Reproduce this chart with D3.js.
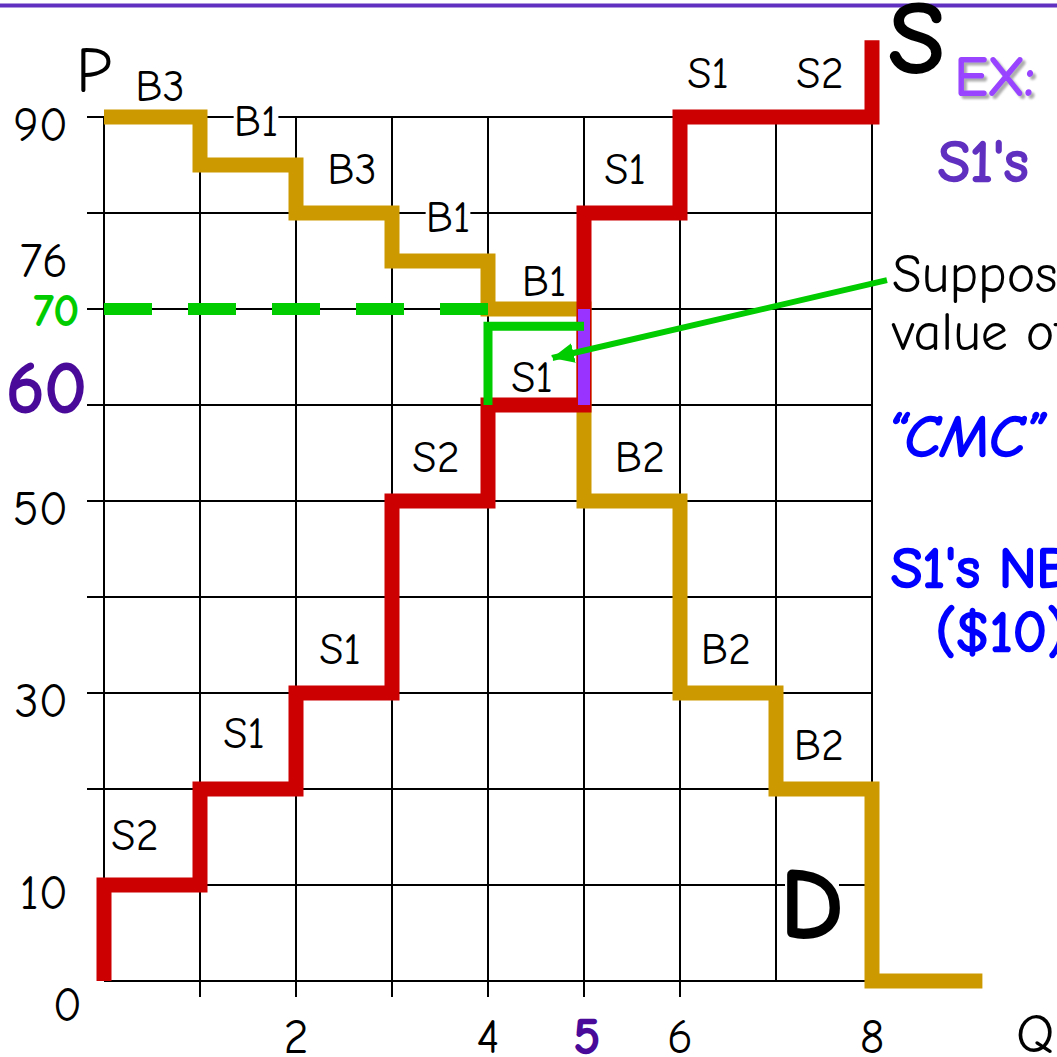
<!DOCTYPE html>
<html>
<head>
<meta charset="utf-8">
<script src="https://cdn.jsdelivr.net/npm/d3@7"></script>
<style>
  body { margin: 0; background: #fff; }
  svg { display: block; font-family: "Comic Sans MS", "Comic Neue", "DejaVu Sans", sans-serif; }
</style>
</head>
<body>
<svg id="chart" width="1057" height="1057"></svg>
<script>
// demand steps (buyers), read left to right
const demandQ = [0, 1, 2, 3, 4, 5, 6, 7, 8, 9.15];
const demandP = [90, 85, 80, 75, 70, 50, 30, 20, 0, 0];
const demandLabels = ["B3", "B1", "B3", "B1", "B1", "B2", "B2", "B2"];

// supply steps (sellers)
const supplyQ = [0, 1, 2, 3, 4, 5, 6, 7, 8, 8];
const supplyP = [0, 10, 20, 30, 50, 60, 80, 90, 90, 98];
const supplyLabels = ["S2", "S1", "S1", "S2", "S1", "S1", "S1", "S2"];

const gridQ = [0, 1, 2, 3, 4, 5, 6, 7, 8];
const gridP = [0, 10, 20, 30, 40, 50, 60, 70, 80, 90];
const yTickLabels = [90, 76, 70, 60, 50, 30, 10, 0];
const xTickLabels = [2, 4, 5, 6, 8];

const dashedP = 70;          // green dashed price line
const s1ValueP = 68.2;       // green bracket, S1's value
const cmcP = [60, 70];       // purple segment at Q = 5
const arrowFrom = [8.156, 73.0];
const arrowTo = [4.667, 64.9];

const svg = d3.select("#chart");
const x = d3.scaleLinear().domain([0, 8]).range([104, 872]);
const y = d3.scaleLinear().domain([0, 90]).range([981, 117]);

const defs = svg.append("defs");
defs.append("filter").attr("id", "shadow")
    .attr("x", "-10%").attr("y", "-10%").attr("width", "130%").attr("height", "130%")
    .append("feDropShadow")
    .attr("dx", 3).attr("dy", 3).attr("stdDeviation", 0.8)
    .attr("flood-color", "#999").attr("flood-opacity", 0.8);

// heavier strokes since the fallback font has no real bold
function heavy(sel, color, w) {
  return sel.attr("fill", color).attr("stroke", color).attr("stroke-width", w)
      .attr("stroke-linejoin", "round");
}

// purple rule at top
svg.append("line")
    .attr("x1", 0).attr("x2", 1057).attr("y1", 5.5).attr("y2", 5.5)
    .attr("stroke", "#6030c0").attr("stroke-width", 4);

// grid
const grid = svg.append("g").attr("stroke", "#000").attr("stroke-width", 2);
grid.selectAll(".h").data(gridP).enter().append("line")
    .attr("x1", d => d >= 20 ? x(0) - 17 : x(0))
    .attr("x2", x(8))
    .attr("y1", d => y(d)).attr("y2", d => y(d));
grid.selectAll(".v").data(gridQ).enter().append("line")
    .attr("x1", d => x(d)).attr("x2", d => x(d))
    .attr("y1", y(90))
    .attr("y2", d => d >= 1 && d <= 6 ? y(0) + 16 : y(0));

// step lines
const line = d3.line().x(d => x(d[0])).y(d => y(d[1]));

svg.append("path")
    .datum(demandQ.map((q, i) => [q, demandP[i]]))
    .attr("d", line.curve(d3.curveStepAfter))
    .attr("fill", "none").attr("stroke", "#cc9900").attr("stroke-width", 15)
    .attr("stroke-linejoin", "miter");

svg.append("path")
    .datum(supplyQ.map((q, i) => [q, supplyP[i]]))
    .attr("d", line.curve(d3.curveStepBefore))
    .attr("fill", "none").attr("stroke", "#cc0000").attr("stroke-width", 15)
    .attr("stroke-linejoin", "miter");

// purple CMC piece
svg.append("line")
    .attr("x1", x(5)).attr("x2", x(5))
    .attr("y1", y(cmcP[0])).attr("y2", y(cmcP[1]))
    .attr("stroke", "#9933ff").attr("stroke-width", 12);

// green dashed at 70
svg.append("line")
    .attr("x1", x(0)).attr("x2", x(4))
    .attr("y1", y(dashedP)).attr("y2", y(dashedP))
    .attr("stroke", "#00cc00").attr("stroke-width", 12)
    .attr("stroke-dasharray", "48 36");

// green bracket
svg.append("path")
    .attr("d", "M" + x(4) + "," + y(60) + "V" + y(s1ValueP) + "H" + x(5))
    .attr("fill", "none").attr("stroke", "#00cc00").attr("stroke-width", 9)
    .attr("stroke-linejoin", "miter");

// arrow
defs.append("marker")
    .attr("id", "head").attr("markerUnits", "userSpaceOnUse")
    .attr("markerWidth", 30).attr("markerHeight", 30)
    .attr("refX", 22).attr("refY", 10).attr("orient", "auto")
    .append("path").attr("d", "M0,0L22,10L0,20Z").attr("fill", "#00cc00");
svg.append("line")
    .attr("x1", x(arrowFrom[0])).attr("y1", y(arrowFrom[1]))
    .attr("x2", x(arrowTo[0])).attr("y2", y(arrowTo[1]))
    .attr("stroke", "#00cc00").attr("stroke-width", 6)
    .attr("marker-end", "url(#head)");

// step labels with white backing
function label(txt, cx, cy, size) {
  const g = svg.append("g");
  const t = g.append("text")
      .attr("x", cx).attr("y", cy)
      .attr("text-anchor", "middle").attr("dominant-baseline", "central")
      .attr("font-size", size).attr("fill", "#000").text(txt);
  const b = t.node().getBBox();
  g.insert("rect", "text")
      .attr("x", b.x).attr("y", b.y + 6).attr("width", b.width).attr("height", b.height - 12)
      .attr("fill", "#fff");
  return t;
}

const nudge = {
  d0: [0, 13], d4: [0, 16], d6: [-10, 0], d7: [-13, 0],
  s0: [-13, -6], s1: [0, -12], s4: [0, 16], s5: [-3, 0], s6: [-16, 0]
};
demandLabels.forEach((t, i) => {
  const n = nudge["d" + i] || [0, 0];
  label(t, x(i + 0.5) + 8 + n[0], y(demandP[i]) - 44 + n[1], 44);
});
supplyLabels.forEach((t, i) => {
  const n = nudge["s" + i] || [0, 0];
  label(t, x(i + 0.5) - 4 + n[0], y(supplyP[i + 1]) - 44 + n[1], 44);
});

// axis labels
const yl = svg.append("g");
yTickLabels.forEach(v => {
  let t = yl.append("text").attr("dominant-baseline", "central").attr("text-anchor", "end").text(v);
  if (v === 70) {
    t.attr("x", 79).attr("y", y(v) + 2).attr("font-size", 42);
    heavy(t, "#00cc00", 2);
  } else if (v === 60) {
    t.attr("x", 87).attr("y", y(v) - 16).attr("font-size", 70);
    heavy(t, "#4a0a99", 3);
  } else if (v === 0) {
    t.attr("x", 82).attr("y", y(v) + 24).attr("font-size", 48);
  } else {
    t.attr("x", 68).attr("y", y(v) + (v === 76 ? 10 : 8)).attr("font-size", 48);
  }
});
xTickLabels.forEach(v => {
  const t = svg.append("text")
      .attr("x", x(v) + (v === 5 ? 3 : 0)).attr("y", 1037)
      .attr("text-anchor", "middle").attr("dominant-baseline", "central")
      .attr("font-size", 48)
      .text(v);
  if (v === 5) heavy(t, "#4a0a99", 2.5);
});
svg.append("text").attr("x", 76).attr("y", 92).attr("font-size", 64).text("P");
svg.append("text").attr("x", 1016).attr("y", 1052).attr("font-size", 54).text("Q");

// S and D
heavy(svg.append("text").attr("x", 889).attr("y", 72).attr("font-size", 100).text("S"), "#000", 4);
const dg = svg.append("g");
dg.append("rect").attr("x", 785).attr("y", 870).attr("width", 54).attr("height", 66).attr("fill", "#fff");
heavy(dg.append("text").attr("x", 781).attr("y", 937).attr("font-size", 98).text("D"), "#000", 4);

// right-hand notes
heavy(svg.append("text").attr("x", 955).attr("y", 95).attr("font-size", 54)
    .attr("filter", "url(#shadow)").text("EX:"), "#9944ff", 2);
heavy(svg.append("text").attr("x", 938).attr("y", 181).attr("font-size", 58).text("S1's"), "#6030c0", 2.5);
svg.append("text").attr("x", 892).attr("y", 292).attr("font-size", 54).text("Suppose");
svg.append("text").attr("x", 892).attr("y", 350).attr("font-size", 54).text("value of");
heavy(svg.append("text").attr("x", 887).attr("y", 456).attr("font-size", 58)
    .attr("font-style", "italic").text("\u201CCMC\u201D"), "#0000ff", 2.5);
heavy(svg.append("text").attr("x", 891).attr("y", 587).attr("font-size", 57).text("S1's NB"), "#0000ff", 2.5);
heavy(svg.append("text").attr("x", 936).attr("y", 651).attr("font-size", 57).text("($10)"), "#0000ff", 2.5);
</script>
</body>
</html>
